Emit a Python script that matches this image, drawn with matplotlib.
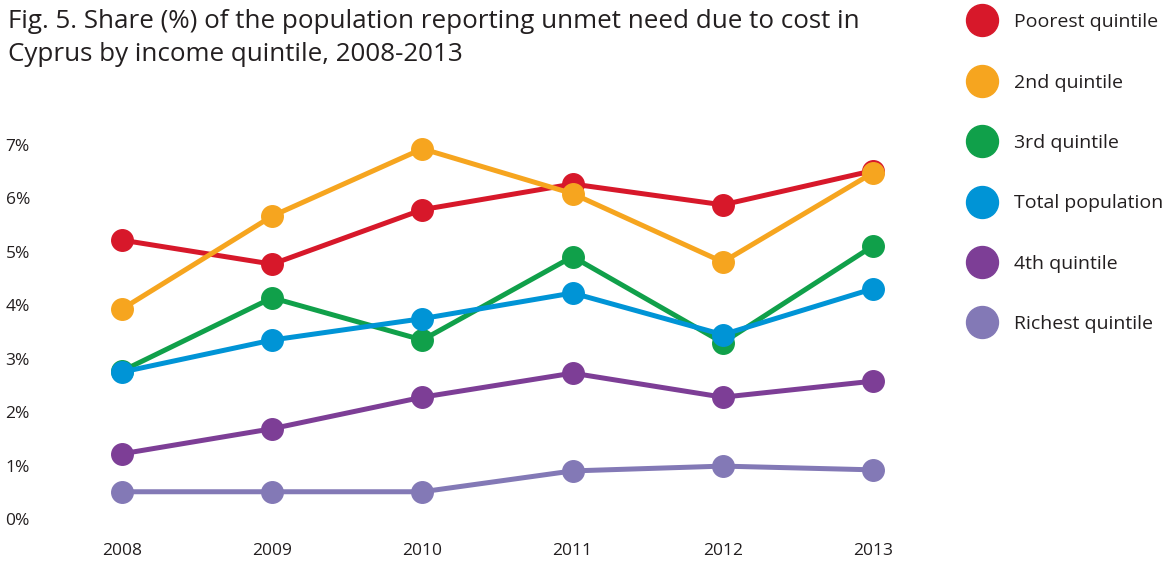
import matplotlib
matplotlib.use("Agg")
import matplotlib.pyplot as plt
from matplotlib.lines import Line2D

years = [2008, 2009, 2010, 2011, 2012, 2013]
series_names = ["Poorest quintile", "2nd quintile", "3rd quintile",
                "Total population", "4th quintile", "Richest quintile"]
poorest = [5.22, 4.77, 5.79, 6.27, 5.88, 6.52]
second = [3.93, 5.67, 6.93, 6.09, 4.81, 6.48]
third = [2.77, 4.14, 3.35, 4.91, 3.30, 5.11]
total = [2.75, 3.35, 3.75, 4.23, 3.45, 4.31]
fourth = [1.22, 1.69, 2.28, 2.73, 2.28, 2.58]
richest = [0.51, 0.51, 0.51, 0.90, 0.99, 0.92]
colors = ["#D7182A", "#F6A51F", "#10A04A", "#0094D6", "#7D3E96", "#8379B6"]
yticks = [0, 1, 2, 3, 4, 5, 6, 7]
ytick_labels = ["0%", "1%", "2%", "3%", "4%", "5%", "6%", "7%"]
title = ("Fig. 5. Share (%) of the population reporting unmet need due to cost in\n"
         "Cyprus by income quintile, 2008-2013")

plt.rcParams['font.family'] = ['Open Sans', 'DejaVu Sans']
W, H = 1168, 562
fig = plt.figure(figsize=(W / 100, H / 100), dpi=100)

# axes spanning x 100..900 px, y 130..525 px
ax = fig.add_axes([100 / W, 1 - 525 / H, 800 / W, 395 / H])
data = [poorest, second, third, total, fourth, richest]
for name, vals, c in zip(series_names, data, colors):
    ax.plot(years, vals, color=c, lw=3.6, marker="o", markersize=15.5,
            solid_capstyle="round", label=name)

ax.set_xlim(2008 - 22 / 150.2, 2013 + 27 / 150.2)
ax.set_ylim(-6 / 53.43, 7 + 15 / 53.43)
ax.set_yticks(yticks)
ax.set_yticklabels(ytick_labels)
ax.set_xticks(years)
ax.set_xticklabels([str(y) for y in years])
for s in ax.spines.values():
    s.set_visible(False)
ax.tick_params(axis="both", length=0, labelsize=12.5, colors="#231F20")
for lab in ax.get_yticklabels():
    lab.set_horizontalalignment("left")
ax.tick_params(axis="x", pad=13)
ax.yaxis.set_tick_params(pad=68)

fig.text(8 / W, 1 - 9 / H, title, ha="left", va="top", fontsize=18.7,
         color="#231F20", linespacing=1.42)

fs = 14
handles = [Line2D([], [], color=c, marker="o", linestyle="none", markersize=23)
           for c in colors]
leg = fig.legend(handles, series_names, loc="upper left",
                 bbox_to_anchor=(960.6 / W, 1 - 5.5 / H), frameon=False,
                 fontsize=fs, labelspacing=2.18, handletextpad=0.96,
                 handlelength=1.4, borderaxespad=0)
for t in leg.get_texts():
    t.set_color("#231F20")

fig.savefig("out.png", dpi=100)
